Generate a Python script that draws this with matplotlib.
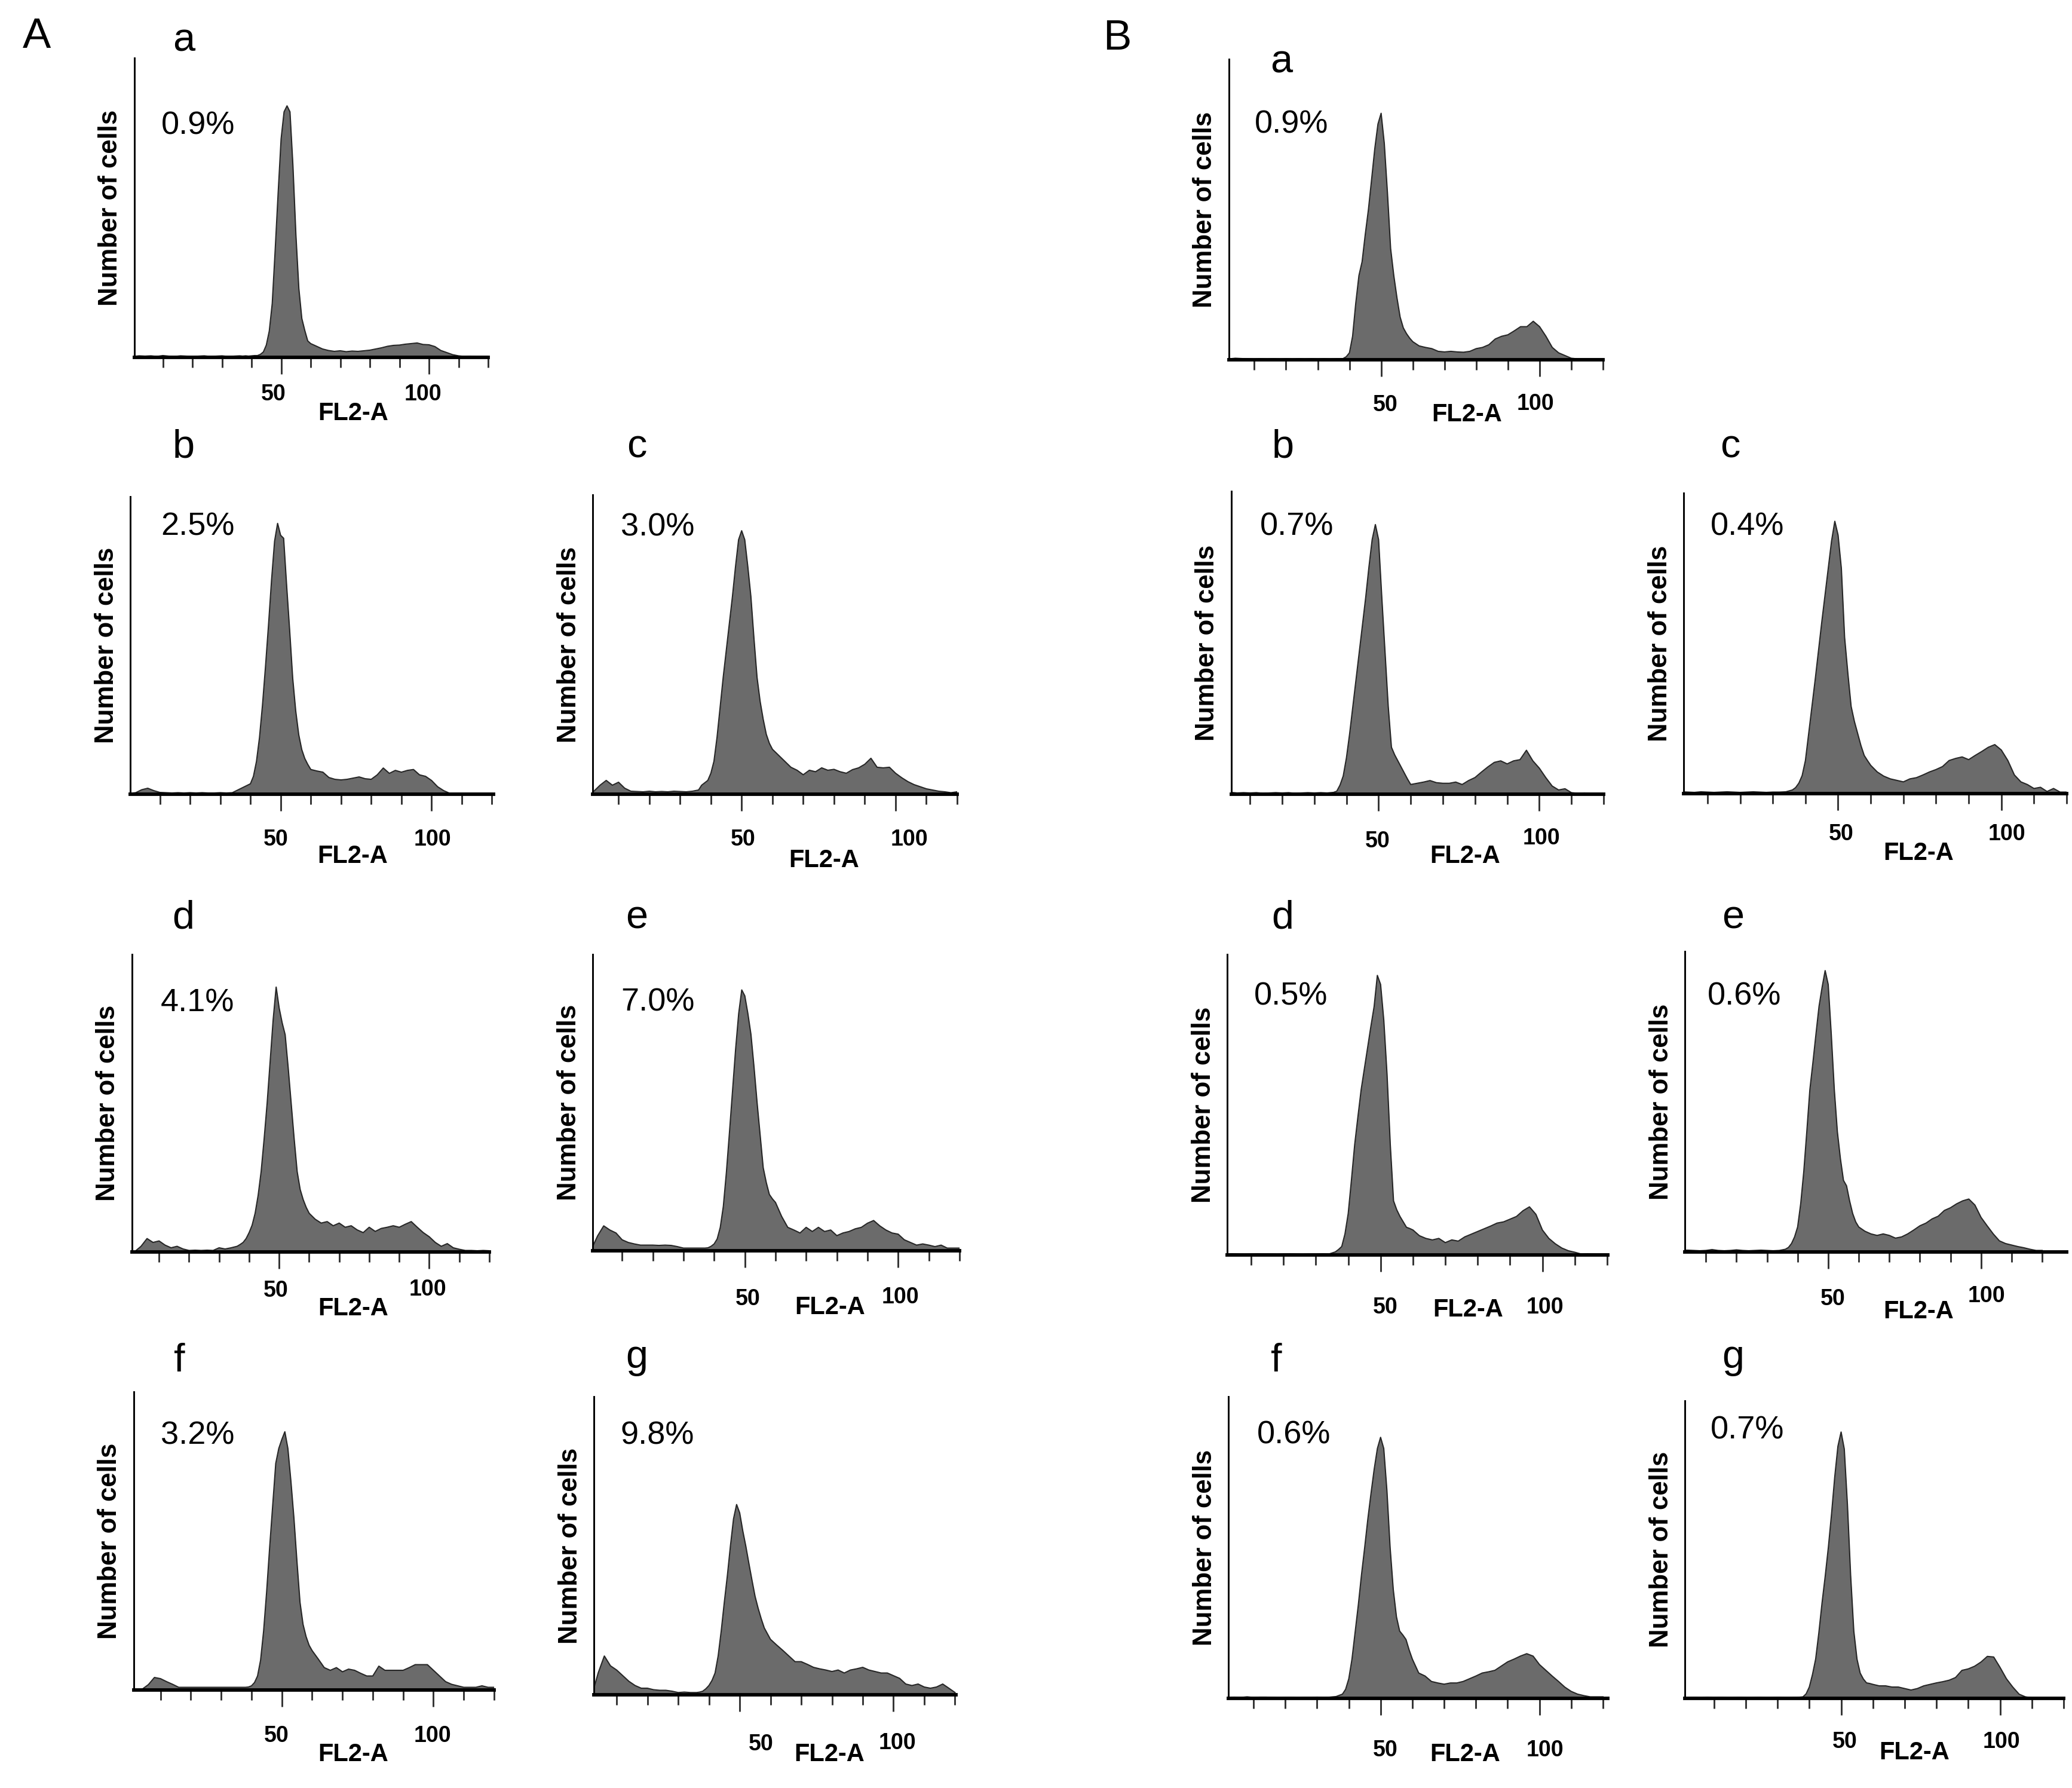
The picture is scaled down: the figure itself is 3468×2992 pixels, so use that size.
import matplotlib
matplotlib.use('Agg')
import matplotlib.pyplot as plt

plt.rcParams['font.family'] = ['Liberation Sans', 'DejaVu Sans']

# FL2-A channel positions shared by every histogram (finer around the G1 peak)
FL2 = [0, 2, 4, 6, 8, 10, 12, 14, 16, 18, 20, 22, 24, 26, 28, 30, 32, 34, 36,
       37, 38, 39, 40, 41, 42, 43, 44, 45, 46, 47, 48, 49, 50, 51, 52, 53, 54, 55, 56, 57, 58, 59, 60,
       62, 64, 66, 68, 70, 72, 74, 76, 78, 80, 82, 84, 86, 88, 90, 92, 94, 96, 98, 100,
       102, 104, 106, 108, 110, 112, 114, 116, 118, 120]

# cell counts, as % of the y axis height
A_a = [0.3, 0.5, 0.4, 0.5, 0.3, 0.6, 0.4, 0.3, 0.5, 0.4, 0.3, 0.4, 0.5, 0.3, 0.4, 0.5, 0.3, 0.4, 0.5,
       0.4, 0.5, 0.4, 0.5, 0.6, 0.6, 1.0, 1.8, 4.1, 8.8, 18, 36, 55, 73, 82, 84, 82, 64, 41, 23, 13, 9, 5.5, 4.6,
       3.7, 2.8, 2.3, 2.0, 2.2, 1.9, 2.1, 2.0, 2.2, 2.4, 2.8, 3.2, 3.7, 4.0, 4.1, 4.4, 4.6, 4.8, 4.3, 4.2,
       3.6, 2.3, 1.6, 0.9, 0.5, 0.3, 0.4, 0.3, 0.3, 0.3]
A_b = [0.3, 0.5, 1.5, 2.0, 1.2, 0.6, 0.5, 0.4, 0.5, 0.4, 0.5, 0.4, 0.5, 0.4, 0.4, 0.5, 0.4, 0.5, 1.5,
       2.0, 2.5, 3.0, 3.5, 6, 11, 19, 30, 43, 57, 72, 85, 91, 87, 86, 70, 55, 39, 28, 20, 15, 12, 10, 8.3,
       7.8, 7.4, 5.6, 5.0, 4.8, 5.0, 5.4, 5.8, 5.2, 5.0, 6.5, 8.8, 7.0, 8.0, 7.4, 8.0, 8.3, 6.5, 6.0, 4.6,
       2.5, 1.2, 0.3, 0.3, 0.3, 0.3, 0.3, 0.3, 0.3, 0.3]
A_c = [0.3, 1.0, 3.0, 4.6, 3.0, 4.0, 2.0, 1.0, 0.9, 0.8, 1.0, 0.8, 0.9, 0.8, 1.0, 0.9, 0.8, 1.0, 1.4,
       3.0, 3.8, 4.6, 7, 11, 19, 29, 39, 48, 57, 66, 76, 85, 88, 85, 76, 66, 52, 39, 31, 25, 20, 17, 15,
       13, 11, 9, 8, 6.5, 8, 7.5, 8.8, 8.0, 8.3, 7.5, 7.0, 8.2, 8.8, 10, 12, 9, 8.8, 9, 7,
       5.5, 4.2, 3.2, 2.5, 1.8, 1.4, 1.0, 0.8, 0.5, 0.8]
A_d = [0.0, 0.2, 1.9, 4.5, 3.2, 3.7, 2.3, 1.4, 1.9, 1.0, 0.5, 0.6, 0.5, 0.6, 0.5, 1.4, 1.0, 1.4, 1.9,
       2.5, 3.2, 4.5, 6.5, 9, 13, 19, 27, 38, 50, 64, 78, 89, 82, 77, 73, 62, 50, 38, 27, 21, 17.6, 15, 13,
       11, 9.7, 10.2, 8.8, 9.7, 8.3, 8.8, 7.4, 6.5, 8.3, 6.9, 7.9, 8.3, 8.8, 8.3, 9.3, 10.2, 8.3, 6.5, 5.1,
       3.2, 1.9, 2.8, 1.4, 0.9, 0.5, 0.5, 0.4, 0.5, 0.4]
A_e = [0.5, 5.0, 8.4, 7.0, 6.0, 3.7, 2.8, 2.3, 1.9, 1.9, 1.9, 1.8, 1.9, 1.8, 1.4, 0.9, 0.9, 0.9, 0.9,
       0.9, 1.0, 1.5, 2.3, 4, 7.9, 15, 26.5, 40, 54, 68, 80, 88, 86, 80, 73, 62, 50, 39, 28, 23, 19, 17.5, 16.3,
       11.6, 7.9, 7.0, 6.0, 7.9, 6.5, 7.9, 6.5, 7.0, 5.1, 6.0, 6.5, 7.4, 7.9, 9.3, 10.2, 8.4, 7.0, 6.0, 5.6,
       3.7, 2.8, 1.9, 2.3, 1.9, 1.4, 1.9, 0.9, 0.9, 0.9]
A_f = [0.0, 0.0, 0.3, 1.8, 4.2, 3.8, 2.8, 1.9, 0.9, 0.9, 0.9, 0.9, 0.9, 0.9, 0.9, 0.9, 0.9, 0.9, 0.9,
       0.9, 0.9, 1.0, 1.4, 2.5, 4.7, 10, 19.8, 33, 48, 62, 76, 81, 84, 86.6, 81, 70, 57.6, 43, 29.4, 22, 17.9, 15, 13.2,
       10.4, 7.5, 6.6, 7.5, 6.1, 7.0, 6.6, 5.6, 4.7, 4.7, 8.0, 6.6, 6.6, 6.6, 6.6, 7.5, 8.5, 8.5, 8.5, 6.6,
       4.7, 2.8, 1.9, 1.4, 0.9, 0.9, 0.9, 1.4, 0.9, 0.9]
A_g = [0.0, 0.0, 7.3, 13, 9.7, 8.3, 6.4, 4.5, 3.1, 2.2, 2.2, 1.7, 1.5, 1.5, 1.2, 0.75, 0.9, 0.75, 0.75,
       0.9, 1.2, 2, 3.1, 4.8, 7.3, 13, 21.4, 31, 40, 50, 59, 63.8, 61, 55, 49.8, 44, 38.4, 33, 29, 25.5, 22.4, 20.5, 18.6,
       16.7, 14.9, 13, 11.1, 11.1, 10.2, 9.2, 8.7, 8.3, 7.8, 8.3, 7.3, 8.3, 8.7, 9.2, 8.3, 7.8, 7.3, 7.3, 6.4,
       5.5, 3.6, 3.1, 3.6, 2.6, 2.2, 2.6, 3.6, 2.2, 0.75]
B_a = [0.3, 0.3, 0.5, 0.4, 0.3, 0.2, 0.3, 0.2, 0.3, 0.2, 0.3, 0.2, 0.3, 0.2, 0.3, 0.2, 0.3, 0.2, 0.3,
       0.3, 0.4, 1.0, 2.3, 7.8, 18.8, 28, 32.6, 41.7, 50, 60, 70.2, 78.4, 82, 72, 55.5, 37, 28, 20.6, 14.2, 10.6, 8.7, 7.2, 6.0,
       4.6, 4.1, 3.7, 2.8, 2.6, 2.8, 2.6, 2.5, 2.8, 3.7, 4.1, 5.0, 6.9, 7.8, 8.3, 9.6, 11, 11, 12.8, 11,
       7.8, 4.1, 2.3, 1.4, 0.5, 0.3, 0.3, 0.3, 0.3, 0.3]
B_b = [0.5, 0.5, 0.6, 0.4, 0.5, 0.4, 0.5, 0.3, 0.4, 0.5, 0.4, 0.5, 0.3, 0.4, 0.5, 0.4, 0.5, 0.4, 0.6,
       1, 3, 6, 12, 20, 29, 38, 47, 56, 65, 75, 84, 89, 84, 65, 47, 29, 15.5, 13, 11, 9, 7, 5, 3.2,
       3.6, 4, 4.5, 3.8, 3.6, 3.6, 4, 3.2, 4.5, 5.5, 7.3, 9, 10.5, 11, 10, 11, 11.4, 14.5, 11, 8.6,
       5.5, 2.7, 1.4, 1.8, 0.5, 0.3, 0.4, 0.3, 0.3, 0.3]
B_c = [0.5, 0.6, 0.5, 0.4, 0.6, 0.5, 0.4, 0.5, 0.6, 0.5, 0.4, 0.5, 0.6, 0.5, 0.4, 0.5, 0.5, 0.6, 1.2,
       2, 3.5, 6, 11, 20, 29, 38, 47.5, 57, 66, 75, 84, 90.6, 86, 75, 52, 40, 29, 24, 20, 16, 12.7, 11, 9.4,
       7.2, 5.8, 4.9, 4.4, 3.9, 4.9, 5.3, 6.2, 7.2, 8, 9, 11, 11.7, 12.2, 11.3, 12.7, 14, 15.4, 16.3, 14.5,
       11, 6.2, 3.9, 3, 1.7, 2.1, 0.7, 1.7, 0.5, 0.5]
B_d = [0.3, 0.3, 0.4, 0.3, 0.2, 0.3, 0.4, 0.3, 0.3, 0.2, 0.3, 0.4, 0.3, 0.2, 0.3, 0.3, 0.4, 0.3, 1.0,
       1.8, 2.8, 7, 13.8, 25, 36.7, 46, 55, 62, 69, 76, 82.6, 93, 90, 78, 60, 36.7, 18, 15, 12.8, 11, 9.2, 8.8, 8.3,
       6.4, 5.5, 5, 5.5, 4.1, 5, 4.6, 6, 6.9, 7.8, 8.7, 9.6, 10.6, 11, 11.9, 12.8, 14.7, 16, 13.5, 8.3,
       5.5, 3.7, 2.3, 1.4, 0.9, 0.3, 0.4, 0.3, 0.3, 0.3]
B_e = [0.5, 0.5, 0.6, 0.5, 0.4, 0.5, 0.8, 0.5, 0.4, 0.5, 0.7, 0.5, 0.4, 0.5, 0.6, 0.5, 0.4, 0.5, 0.9,
       1.5, 2.8, 5, 8.3, 16, 26.6, 40, 54, 63, 72.5, 81.7, 88, 93.6, 89, 72.5, 54, 40, 31, 23.8, 22, 17, 12.8, 10, 8.3,
       6.9, 6, 5.5, 6, 5.5, 4.6, 5, 6, 7.3, 8.7, 9.6, 11, 11.9, 13.8, 14.7, 16, 17, 17.6, 15.6, 11.5,
       8.7, 6, 3.7, 2.8, 2.3, 1.8, 1.4, 0.9, 0.5, 0.5]
B_f = [0.3, 0.3, 0.4, 0.3, 0.5, 0.3, 0.4, 0.4, 0.3, 0.2, 0.3, 0.3, 0.2, 0.3, 0.3, 0.4, 0.3, 0.4, 0.6,
       1, 1.4, 3, 6.5, 13, 22, 31, 41, 50, 59.5, 68, 76, 82.8, 86.5, 82.8, 68.8, 50, 36, 27, 22.3, 21, 19.5, 16, 13,
       8.4, 7.4, 5.6, 5.1, 4.7, 5.1, 5.1, 5.6, 6.5, 7.4, 8.4, 8.8, 9.3, 10.7, 12.1, 13, 14, 14.8, 14, 11.2,
       9.3, 7.4, 5.6, 3.7, 2.3, 1.4, 0.9, 0.5, 0.5, 0.5]
B_g = [0.2, 0.2, 0.3, 0.2, 0.4, 0.2, 0.3, 0.2, 0.2, 0.3, 0.2, 0.2, 0.3, 0.2, 0.2, 0.3, 0.2, 0.2, 0.3,
       0.4, 0.5, 1.5, 3.8, 8, 13.2, 22, 32, 41, 50.8, 62, 74.4, 84.7, 89.5, 83.8, 65, 41.4, 22.6, 13.2, 8.5, 6.5, 5.2, 5, 4.7,
       4.2, 4.2, 3.8, 3.8, 3.3, 2.8, 3.3, 4.2, 4.7, 5.2, 5.6, 6.1, 7, 9.4, 9.9, 10.8, 12.2, 14.1, 13.9, 10.4,
       6.6, 3.8, 1.4, 0.5, 0.2, 0.2, 0.2, 0.2, 0.2, 0.2]

# sub-G1 percentages printed in each panel
PCT_A = ['0.9%', '2.5%', '3.0%', '4.1%', '7.0%', '3.2%', '9.8%']
PCT_B = ['0.9%', '0.7%', '0.4%', '0.5%', '0.6%', '0.6%', '0.7%']
LETTERS = ['a', 'b', 'c', 'd', 'e', 'f', 'g']

W, H = 3468, 2992
FILL = '#6b6b6b'
EDGE = '#262626'
PT = 72 / 300  # points per output pixel

# layout in output pixels: y-axis x, x-axis right end, y-axis top, baseline
# xlim, label x (data) and drop (px) for "50", "100", "FL2-A", pct pos (axes frac), letter pos (px)
layout = [
    dict(d=A_a, pct=PCT_A[0], let=LETTERS[0], box=(225, 817, 97, 598), xlim=(0.4, 120),
         l50=(47.5, 62), l100=(98, 62), fl=(74.3, 94), pp=(0.076, 0.774), lp=(308, 69)),
    dict(d=A_b, pct=PCT_A[1], let=LETTERS[1], box=(218, 826, 831, 1329), xlim=(0.2, 120.5),
         l50=(48.5, 76), l100=(100.3, 76), fl=(73.9, 104), pp=(0.084, 0.898), lp=(307, 748)),
    dict(d=A_c, pct=PCT_A[2], let=LETTERS[2], box=(992, 1602, 828, 1329), xlim=(1.6, 116),
         l50=(50.4, 76), l100=(104.4, 76), fl=(76.8, 111), pp=(0.077, 0.892), lp=(1066, 748)),
    dict(d=A_d, pct=PCT_A[3], let=LETTERS[3], box=(221, 819, 1597, 2095), xlim=(1, 120),
         l50=(48.8, 65), l100=(99.5, 63), fl=(74.6, 95), pp=(0.080, 0.837), lp=(307, 1537)),
    dict(d=A_e, pct=PCT_A[4], let=LETTERS[4], box=(992, 1606, 1597, 2093), xlim=(0.4, 120),
         l50=(50.9, 81), l100=(100.7, 78), fl=(77.7, 95), pp=(0.077, 0.837), lp=(1066, 1537)),
    dict(d=A_f, pct=PCT_A[5], let=LETTERS[5], box=(224, 827, 2329, 2828), xlim=(1.2, 120),
         l50=(48.3, 77), l100=(99.7, 77), fl=(73.5, 108), pp=(0.075, 0.852), lp=(300, 2278)),
    dict(d=A_g, pct=PCT_A[6], let=LETTERS[6], box=(994, 1600, 2337, 2836), xlim=(2.6, 120.3),
         l50=(57, 83), l100=(101.3, 81), fl=(79.1, 100), pp=(0.074, 0.868), lp=(1066, 2272)),
    dict(d=B_a, pct=PCT_B[0], let=LETTERS[0], box=(2057, 2683, 99, 602), xlim=(2, 120),
         l50=(51.4, 76), l100=(98.7, 74), fl=(77, 92), pp=(0.069, 0.783), lp=(2145, 104)),
    dict(d=B_b, pct=PCT_B[1], let=LETTERS[1], box=(2061, 2684, 822, 1329), xlim=(4.2, 118.6),
         l50=(49.7, 79), l100=(100.6, 74), fl=(76.9, 104), pp=(0.077, 0.882), lp=(2147, 748)),
    dict(d=B_c, pct=PCT_B[2], let=LETTERS[2], box=(2818, 3459, 825, 1328), xlim=(2.7, 120),
         l50=(51, 68), l100=(101.7, 68), fl=(74.6, 100), pp=(0.070, 0.887), lp=(2896, 748)),
    dict(d=B_d, pct=PCT_B[3], let=LETTERS[3], box=(2054, 2691, 1597, 2100), xlim=(2.6, 120.2),
         l50=(51.5, 88), l100=(100.8, 88), fl=(77, 92), pp=(0.071, 0.859), lp=(2147, 1537)),
    dict(d=B_e, pct=PCT_B[4], let=LETTERS[4], box=(2820, 3459, 1592, 2095), xlim=(3.1, 128),
         l50=(51.6, 79), l100=(101.8, 74), fl=(79.5, 100), pp=(0.059, 0.849), lp=(2901, 1537)),
    dict(d=B_f, pct=PCT_B[5], let=LETTERS[5], box=(2056, 2691, 2337, 2842), xlim=(2.1, 121.5),
         l50=(51.5, 87), l100=(101.7, 87), fl=(76.5, 94), pp=(0.076, 0.873), lp=(2136, 2278)),
    dict(d=B_g, pct=PCT_B[6], let=LETTERS[6], box=(2820, 3454, 2344, 2842), xlim=(0.85, 118),
         l50=(51.1, 73), l100=(100.5, 73), fl=(73.1, 91), pp=(0.068, 0.900), lp=(2901, 2272)),
]

fig = plt.figure(figsize=(W / 300, H / 300), dpi=300)

for p in layout:
    assert len(p['d']) == len(FL2)
    x0, x1, top, base = p['box']
    ax = fig.add_axes([x0 / W, 1 - base / H, (x1 - x0) / W, (base - top) / H])
    ax.fill_between(FL2, p['d'], 0, color=FILL, lw=0)
    ax.plot(FL2, p['d'], color=EDGE, lw=0.5)
    ax.set_xlim(*p['xlim'])
    ax.set_ylim(0, 100)
    ax.set_facecolor('none')
    for s in ('top', 'right'):
        ax.spines[s].set_visible(False)
    ax.spines['left'].set_linewidth(0.7)
    ax.spines['bottom'].set_linewidth(1.4)
    ax.set_yticks([])
    ax.set_xticks([50, 100])
    ax.set_xticks([10, 20, 30, 40, 60, 70, 80, 90, 110, 120], minor=True)
    ax.tick_params(axis='x', which='major', length=6.8, width=0.7, color='#333333', labelbottom=False)
    ax.tick_params(axis='x', which='minor', length=4, width=0.7, color='#333333')

    for txt, (lx, dy), fs in (('50', p['l50'], 9), ('100', p['l100'], 9), ('FL2-A', p['fl'], 10)):
        ax.annotate(txt, xy=(lx, 0), xycoords=('data', 'axes fraction'),
                    xytext=(0, -dy * PT), textcoords='offset points',
                    ha='center', va='center', fontsize=fs, fontweight='bold')

    ax.annotate('Number of cells', xy=(0, 0.5), xycoords='axes fraction',
                xytext=(-40 * PT, 0), textcoords='offset points', rotation=90,
                ha='center', va='center', fontsize=10.5, fontweight='bold')
    ax.text(p['pp'][0], p['pp'][1], p['pct'], transform=ax.transAxes,
            ha='left', va='center', fontsize=13)
    fig.text(p['lp'][0] / W, 1 - p['lp'][1] / H, p['let'], ha='center', va='center', fontsize=16)

fig.text(61 / W, 1 - 62 / H, 'A', ha='center', va='center', fontsize=17)
fig.text(1870 / W, 1 - 65 / H, 'B', ha='center', va='center', fontsize=17)

fig.savefig('out.png', dpi=300)
